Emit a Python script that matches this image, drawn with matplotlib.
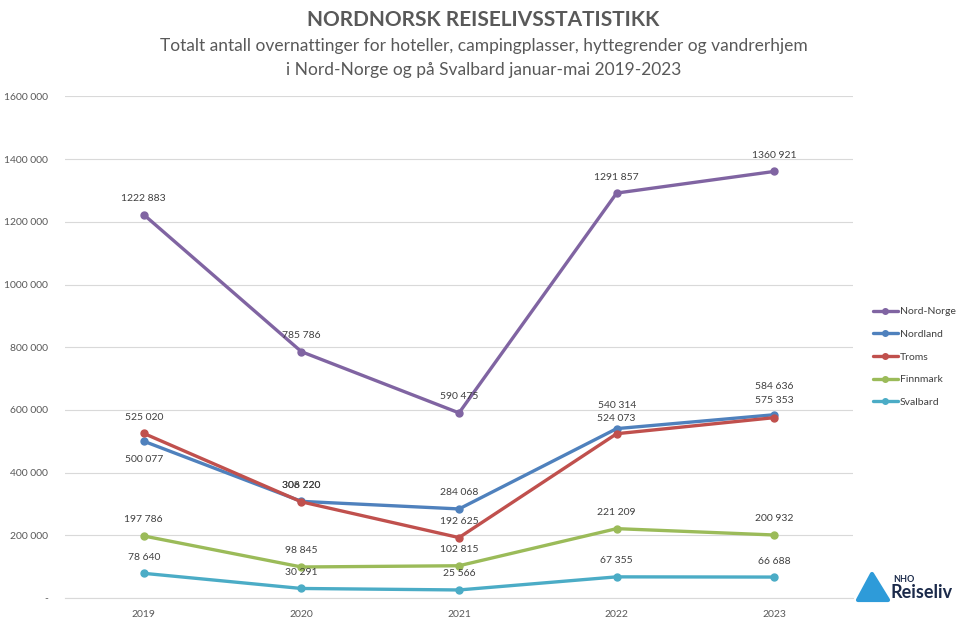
import matplotlib
matplotlib.use("Agg")
import matplotlib.pyplot as plt
from matplotlib.patches import Polygon

plt.rcParams['font.family'] = ['Lato', 'DejaVu Sans']

years = ["2019", "2020", "2021", "2022", "2023"]
nord_norge = [1222883, 785786, 590475, 1291857, 1360921]
nordland = [500077, 308220, 284068, 540314, 584636]
troms = [525020, 306720, 192625, 524073, 575353]
finnmark = [197786, 98845, 102815, 221209, 200932]
svalbard = [78640, 30291, 25566, 67355, 66688]

series_names = ["Nord-Norge", "Nordland", "Troms", "Finnmark", "Svalbard"]
series_values = [nord_norge, nordland, troms, finnmark, svalbard]
colors = ["#8064A2", "#4F81BD", "#C0504D", "#9BBB59", "#4BACC6"]

yticks = [0, 200000, 400000, 600000, 800000, 1000000, 1200000, 1400000, 1600000]
ytick_labels = ["-", "200 000", "400 000", "600 000", "800 000", "1000 000",
                "1200 000", "1400 000", "1600 000"]

def fmt(v):
    s = f"{v:,}".replace(",", " ")
    parts = s.split(" ")
    if len(parts) == 3:
        s = parts[0] + parts[1] + " " + parts[2]
    return s

# label offsets (pixels above point); default 16
offsets = {("Nordland", 0): -18, ("Nordland", 3): 23, ("Nordland", 4): 28,
           ("Troms", 3): 15, ("Troms", 4): 17}

fig = plt.figure(figsize=(9.67, 6.27), dpi=100)
ax = fig.add_axes([0.0672, 0.0463, 0.815, 0.7998])

x = list(range(len(years)))
for name, vals, c in zip(series_names, series_values, colors):
    ax.plot(x, vals, color=c, lw=2.4, marker='o', ms=5, label=name,
            solid_capstyle='round')
    for i, v in enumerate(vals):
        dy = offsets.get((name, i), 16)
        ax.annotate(fmt(v), (i, v), xytext=(0, dy), textcoords='offset pixels',
                    ha='center', va='center', fontsize=7.5, color='#404040')

ax.set_xlim(-0.5, 4.5)
ax.set_ylim(0, 1600000)
ax.set_xticks(x)
ax.set_xticklabels(years)
ax.set_yticks(yticks)
ax.set_yticklabels(ytick_labels)
ax.tick_params(axis='both', length=0, labelsize=7.5, colors='#595959')
ax.tick_params(axis='x', pad=9)
ax.tick_params(axis='y', pad=12)
ax.grid(axis='y', color='#D9D9D9', lw=0.8)
ax.set_axisbelow(True)
for s in ['top', 'right', 'left']:
    ax.spines[s].set_visible(False)
ax.spines['bottom'].set_color('#D9D9D9')

leg = fig.legend(loc='upper left', bbox_to_anchor=(0.893, 0.525), frameon=False,
                 fontsize=7.5, handlelength=2.4, handletextpad=0.2,
                 labelspacing=1.28, markerscale=0.8)
for t in leg.get_texts():
    t.set_color('#404040')

fig.text(0.5, 0.968, "NORDNORSK REISELIVSSTATISTIKK", ha='center', va='center',
         fontsize=15, fontweight='bold', color='#595959')
fig.text(0.5, 0.927, "Totalt antall overnattinger for hoteller, campingplasser, hyttegrender og vandrerhjem",
         ha='center', va='center', fontsize=12.5, color='#595959')
fig.text(0.5, 0.888, "i Nord-Norge og på Svalbard januar-mai 2019-2023",
         ha='center', va='center', fontsize=12.5, color='#595959')

# logo
tri = Polygon([[858/967, 1 - 600/627], [872/967, 1 - 574/627], [888/967, 1 - 600/627]],
              closed=True, transform=fig.transFigure, facecolor='#2E9BD9',
              edgecolor='#2E9BD9', lw=3, joinstyle='round')
fig.add_artist(tri)
fig.text(893/967, 1 - 580/627, "NHO", fontsize=6.5, fontweight='bold',
         color='#1B2A4A', va='center', ha='left')
fig.text(890/967, 1 - 593/627, "Reiseliv", fontsize=13, fontweight='bold',
         color='#1B2A4A', va='center', ha='left')

fig.savefig("out.png", dpi=100)
